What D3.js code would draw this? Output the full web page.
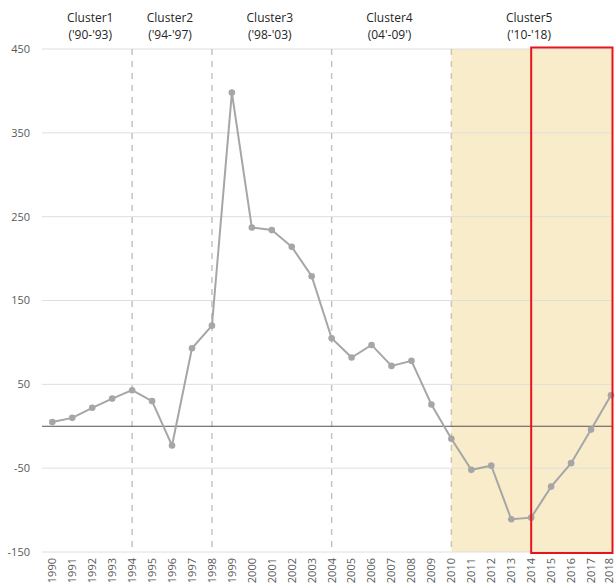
<!DOCTYPE html>
<html>
<head>
<meta charset="utf-8">
<script src="https://cdn.jsdelivr.net/npm/d3@7"></script>
<style>
    body { margin: 0; background: #fff; }
    text { font-family: "Open Sans", "Noto Sans", sans-serif; }
</style>
</head>
<body>
<svg id="chart" width="615" height="588"></svg>
<script>
// Data
const years = d3.range(1990, 2019);
const values = [5, 10, 22, 33, 43, 30, -23, 93, 120, 398, 237, 234, 214, 179, 105,
                82, 97, 72, 78, 26, -15, -52, -47, -111, -109, -72, -44, -4, 37];
const yTicks = [450, 350, 250, 150, 50, -50, -150];
const clusterBreaks = [1994, 1998, 2004, 2010];
const clusters = [
    { name: "Cluster1", range: "('90-'93)", from: 1990, to: 1994 },
    { name: "Cluster2", range: "('94-'97)", from: 1994, to: 1998 },
    { name: "Cluster3", range: "('98-'03)", from: 1998, to: 2004 },
    { name: "Cluster4", range: "(04'-09')", from: 2004, to: 2010 },
    { name: "Cluster5", range: "('10-'18)", from: 2010, to: 2018 }
];
const shadedFrom = 2010;
const highlightYears = [2014, 2018];

// Layout
const svg = d3.select("#chart");
const plotLeft = 42, plotRight = 613, plotTop = 49, plotBottom = 552;

const x = d3.scaleLinear().domain([1990, 2018]).range([52.3, 611]);
const y = d3.scaleLinear().domain([-150, 450]).range([plotBottom, plotTop]);

// Shaded area for cluster 5
svg.append("rect")
    .attr("x", x(shadedFrom))
    .attr("y", plotTop)
    .attr("width", plotRight - x(shadedFrom))
    .attr("height", plotBottom - plotTop)
    .attr("fill", "#f9ecca");

// Gridlines
svg.append("g")
    .selectAll("line")
    .data(yTicks)
    .enter().append("line")
    .attr("x1", plotLeft)
    .attr("x2", plotRight)
    .attr("y1", d => y(d))
    .attr("y2", d => y(d))
    .attr("stroke", "#dedede")
    .attr("stroke-width", 1);

// Y labels
svg.append("g")
    .selectAll("text")
    .data(yTicks)
    .enter().append("text")
    .attr("x", 30)
    .attr("y", d => y(d))
    .attr("dy", "0.35em")
    .attr("text-anchor", "end")
    .style("font-size", "11px")
    .style("fill", "#595959")
    .text(d => d);

// Cluster dashed dividers
svg.append("g")
    .selectAll("line")
    .data(clusterBreaks)
    .enter().append("line")
    .attr("x1", d => x(d))
    .attr("x2", d => x(d))
    .attr("y1", plotTop)
    .attr("y2", plotBottom)
    .attr("stroke", d => d === shadedFrom ? "#cfc6b0" : "#c4c4c4")
    .attr("stroke-width", 1.5)
    .attr("stroke-dasharray", "6,6");

// Zero line
svg.append("line")
    .attr("x1", plotLeft)
    .attr("x2", plotRight)
    .attr("y1", y(0))
    .attr("y2", y(0))
    .attr("stroke", "#5a5050")
    .attr("stroke-width", 1);

// Series line
const line = d3.line()
    .x((d, i) => x(years[i]))
    .y(d => y(d));

svg.append("path")
    .datum(values)
    .attr("d", line)
    .attr("fill", "none")
    .attr("stroke", "#a6a6a6")
    .attr("stroke-width", 2);

svg.append("g")
    .selectAll("circle")
    .data(values)
    .enter().append("circle")
    .attr("cx", (d, i) => x(years[i]))
    .attr("cy", d => y(d))
    .attr("r", 3.3)
    .attr("fill", "#a6a6a6");

// Highlight box
svg.append("rect")
    .attr("x", x(highlightYears[0]))
    .attr("y", plotTop - 1.5)
    .attr("width", x(highlightYears[1]) - x(highlightYears[0]) + 1.5)
    .attr("height", plotBottom - plotTop + 2.5)
    .attr("fill", "none")
    .attr("stroke", "#e8141b")
    .attr("stroke-width", 2);

// X labels (rotated); last one nudged in so it stays on the page
svg.append("g")
    .selectAll("text")
    .data(years)
    .enter().append("text")
    .attr("transform", d => `translate(${Math.min(x(d), 609)}, 558) rotate(-90)`)
    .attr("dy", "0.35em")
    .attr("text-anchor", "end")
    .style("font-size", "11px")
    .style("fill", "#595959")
    .text(d => d);

// Cluster titles
const titles = svg.append("g")
    .selectAll("text")
    .data(clusters)
    .enter().append("text")
    .attr("text-anchor", "middle")
    .style("font-size", "12px")
    .style("fill", "#262626");

titles.append("tspan")
    .attr("x", d => (x(d.from) + x(d.to)) / 2 - 2)
    .attr("y", 22)
    .text(d => d.name);

titles.append("tspan")
    .attr("x", d => (x(d.from) + x(d.to)) / 2 - 2)
    .attr("y", 39)
    .text(d => d.range);
</script>
</body>
</html>
